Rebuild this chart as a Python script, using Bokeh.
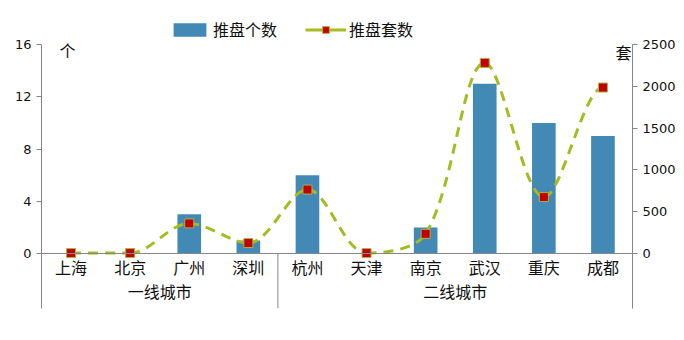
from bokeh.plotting import figure
from bokeh.models import Range1d, LinearAxis, FixedTicker, Span, Legend, LegendItem
from bokeh.core.properties import value
from bokeh.embed import file_html
from bokeh.resources import INLINE
import math

cities = ["上海", "北京", "广州", "深圳", "杭州", "天津", "南京", "武汉", "重庆", "成都"]
groups = ["一线城市", "二线城市"]
group_sizes = [4, 6]
counts = [0, 0, 3, 1, 6, 0, 2, 13, 10, 9]          # 推盘个数
units = [5, 5, 360, 125, 765, 5, 235, 2280, 675, 1985]  # 推盘套数
left_ticks = [0, 4, 8, 12, 16]
right_ticks = [0, 500, 1000, 1500, 2000, 2500]

BAR = "#4389b5"
LINE = "#a5bb22"
MARK = "#c00000"
AXIS = "#868686"
CJK = "Noto Sans CJK SC"

W, H = 684, 340
left_b, right_b, top_b, bot_b = 41, 52, 0, 32
# y=16 at pixel 44, y=0 at 253
ppu = (253 - 44) / 16.0
y_top = 16 + (44 - top_b) / ppu
y_bot = -(H - bot_b - 253) / ppu
k = 2500 / 16.0
px_x = (W - left_b - right_b) / len(cities)
px_y = ppu / k

p = figure(width=W, height=H, output_backend="svg", toolbar_location=None,
           x_range=Range1d(-0.5, len(cities) - 0.5), y_range=Range1d(y_bot, y_top),
           min_border_left=left_b, min_border_right=right_b, min_border_top=top_b,
           min_border_bottom=bot_b, x_axis_location=None, y_axis_location=None)
p.outline_line_color = None
p.xgrid.visible = False
p.ygrid.visible = False
p.background_fill_color = None
p.border_fill_color = "white"
p.extra_y_ranges = {"right": Range1d(y_bot * k, y_top * k)}

def style_axis(ax):
    ax.axis_line_color = AXIS
    ax.major_tick_line_color = AXIS
    ax.minor_tick_line_color = None
    ax.major_tick_out = 5
    ax.major_tick_in = 0
    ax.major_label_text_font = "DejaVu Sans"
    ax.major_label_text_font_size = "13px"
    ax.major_label_text_color = "#111111"
    ax.major_label_standoff = 5

la = LinearAxis(ticker=FixedTicker(ticks=left_ticks), bounds=(y_bot, 16))
style_axis(la)
p.add_layout(la, "left")
ra = LinearAxis(y_range_name="right", ticker=FixedTicker(ticks=right_ticks), bounds=(y_bot * k, 2500))
style_axis(ra)
p.add_layout(ra, "right")

p.add_layout(Span(location=0, dimension="width", line_color=AXIS, line_width=1))

xs = list(range(len(cities)))
bars = p.vbar(x=xs, top=counts, width=0.4, fill_color=BAR, line_color=None)

# smoothed line: Bezier with tangents scaled by neighbouring segment lengths,
# flattened at local extrema
n = len(units)
def dist(i, j):
    return math.hypot((xs[j] - xs[i]) * px_x, (units[j] - units[i]) * px_y)

def ctrl(i, toward):
    a, b = max(i - 1, 0), min(i + 1, n - 1)
    da, db = dist(a, i), dist(i, b)
    dn = da if toward < i else db
    tot = da + db
    f = (dn / tot) / 3.0 if tot > 0 else 0
    sgn = 1 if toward > i else -1
    dy = units[b] - units[a]
    if (units[a] - units[i]) * (units[b] - units[i]) >= 0:
        dy = 0
    return (xs[i] + sgn * f * (xs[b] - xs[a]), units[i] + sgn * f * dy)

x0, y0, x1, y1, cx0, cy0, cx1, cy1 = [], [], [], [], [], [], [], []
for i in range(n - 1):
    c0 = ctrl(i, i + 1)
    c1 = ctrl(i + 1, i)
    x0.append(xs[i]); y0.append(units[i]); x1.append(xs[i + 1]); y1.append(units[i + 1])
    cx0.append(c0[0]); cy0.append(c0[1]); cx1.append(c1[0]); cy1.append(c1[1])
p.bezier(x0=x0, y0=y0, x1=x1, y1=y1, cx0=cx0, cy0=cy0, cx1=cx1, cy1=cy1,
         line_color=LINE, line_width=3, line_dash="10 7", y_range_name="right")
nan = float("nan")
dummy = p.line(x=[nan], y=[nan], line_color=LINE, line_width=3, y_range_name="right")
pts = p.scatter(x=xs, y=units, marker="square", size=9, fill_color=MARK,
                line_color="#b0b040", line_width=1, y_range_name="right")

# category labels
p.text(x=xs, y=[0] * n, text=cities, text_font=value(CJK), text_font_size="16px",
       text_align="center", text_baseline="middle", y_offset=13, text_color="#111111")
gx, start = [], 0
seps = []
for s in group_sizes:
    gx.append(start + (s - 1) / 2.0)
    start += s
    seps.append(start - 0.5)
p.text(x=gx, y=[0] * len(gx), text=groups, text_font=value(CJK), text_font_size="16px",
       text_align="center", text_baseline="middle", y_offset=37, text_color="#111111")
sx = seps[:-1]
p.segment(x0=sx, y0=[0] * len(sx), x1=sx, y1=[y_bot] * len(sx), line_color=AXIS, line_width=1)

# unit labels
p.text(x=[-0.5], y=[16], text=["个"], text_font=value(CJK), text_font_size="16px",
       text_align="center", text_baseline="middle", x_offset=26, y_offset=5, text_color="#111111")
p.text(x=[len(cities) - 0.5], y=[16], text=["套"], text_font=value(CJK), text_font_size="16px",
       text_align="right", text_baseline="middle", x_offset=-1, y_offset=7, text_color="#111111")

legend = Legend(items=[LegendItem(label="推盘个数", renderers=[bars]),
                       LegendItem(label="推盘套数", renderers=[dummy, pts])],
                orientation="horizontal", location=(128, 267),
                label_text_font=CJK, label_text_font_size="16px", label_text_color="#111111",
                glyph_width=41, glyph_height=17, label_standoff=3, spacing=28,
                padding=0, margin=0, border_line_color=None, background_fill_alpha=0)
p.add_layout(legend, "center")

open("out.html", "w").write(file_html(p, INLINE))
